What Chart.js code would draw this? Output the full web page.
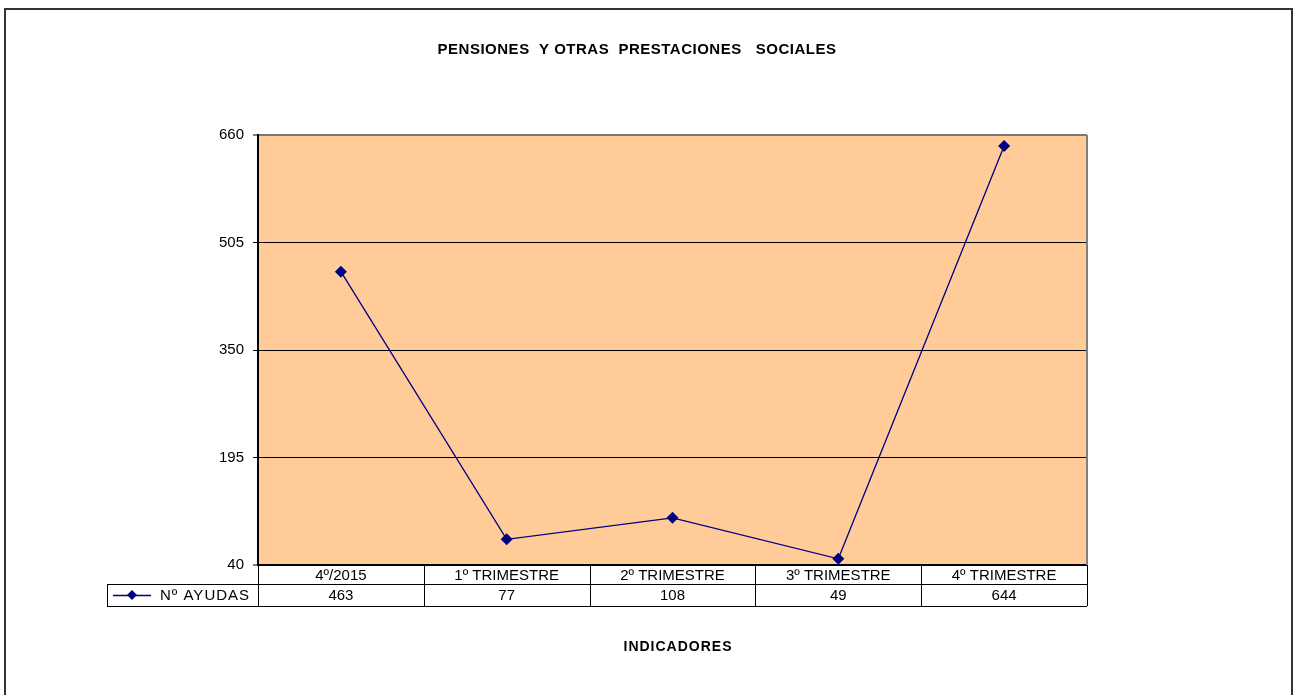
<!DOCTYPE html>
<html>
<head>
<meta charset="utf-8">
<script src="https://cdn.jsdelivr.net/npm/chart.js@4"></script>
<style>
  body { margin: 0; background: #fff; }
  #wrap { width: 1297px; height: 695px; }
</style>
</head>
<body>
<div id="wrap"><canvas id="chart" width="1297" height="695"></canvas></div>
<script>
const categories = ['4º/2015', '1º TRIMESTRE', '2º TRIMESTRE', '3º TRIMESTRE', '4º TRIMESTRE'];
const ayudas = [463, 77, 108, 49, 644];
const seriesName = 'Nº AYUDAS';
const yTicks = [40, 195, 350, 505, 660];
const chartTitle = 'PENSIONES  Y OTRAS  PRESTACIONES   SOCIALES';
const axisTitle = 'INDICADORES';

const FONT = '"Liberation Sans", Arial, sans-serif';
const NAVY = '#000080';

// background, plot fill, frame, data table
const framePlugin = {
    id: 'frame',
    beforeDraw(chart) {
        const c = chart.ctx;
        const a = chart.chartArea;
        c.save();
        c.fillStyle = '#fff';
        c.fillRect(0, 0, chart.width, chart.height);
        c.strokeStyle = '#333';
        c.lineWidth = 2;
        c.strokeRect(5, 9, 1287, 700);
        c.fillStyle = '#FFCC99';
        c.fillRect(a.left, a.top, a.right - a.left, a.bottom - a.top);
        c.restore();
    },
    afterDraw(chart) {
        const c = chart.ctx;
        const a = chart.chartArea;
        const x = chart.scales.x;
        c.save();
        c.strokeStyle = '#808080';
        c.lineWidth = 2;
        c.beginPath();
        c.moveTo(a.right, a.top);
        c.lineTo(a.right, a.bottom);
        c.stroke();

        // titles
        c.fillStyle = '#000';
        c.textAlign = 'center';
        c.textBaseline = 'middle';
        c.font = 'bold 15px ' + FONT;
        c.letterSpacing = '0.5px';
        c.fillText(chartTitle, 637, 50);
        c.font = 'bold 14px ' + FONT;
        c.letterSpacing = '1px';
        c.fillText(axisTitle, 678, 647);
        c.letterSpacing = '0px';

        // data table
        const row1 = a.bottom, row2 = a.bottom + 19, row3 = a.bottom + 41;
        const colW = (a.right - a.left) / categories.length;
        const legendLeft = 107;
        c.strokeStyle = '#000';
        c.lineWidth = 1;
        c.beginPath();
        c.moveTo(legendLeft, row2 + 0.5); c.lineTo(a.right, row2 + 0.5);
        c.moveTo(legendLeft, row3 + 0.5); c.lineTo(a.right, row3 + 0.5);
        c.moveTo(legendLeft + 0.5, row2); c.lineTo(legendLeft + 0.5, row3);
        for (let i = 0; i <= categories.length; i++) {
            const xx = Math.round(a.left + i * colW) + 0.5;
            c.moveTo(xx, row1); c.lineTo(xx, row3);
        }
        c.stroke();

        c.font = '15px ' + FONT;
        c.fillStyle = '#000';
        categories.forEach((cat, i) => {
            const cx = x.getPixelForValue(i);
            c.fillText(cat, cx, (row1 + row2) / 2 + 1);
            c.fillText(String(ayudas[i]), cx, (row2 + row3) / 2 + 1);
        });

        // legend key
        const ly = (row2 + row3) / 2;
        c.strokeStyle = NAVY;
        c.lineWidth = 1.3;
        c.beginPath();
        c.moveTo(113, ly + 0.5); c.lineTo(151, ly + 0.5);
        c.stroke();
        c.fillStyle = NAVY;
        c.beginPath();
        c.moveTo(132, ly - 5); c.lineTo(137, ly); c.lineTo(132, ly + 5); c.lineTo(127, ly);
        c.closePath();
        c.fill();
        c.fillStyle = '#000';
        c.textAlign = 'left';
        c.letterSpacing = '1px';
        c.fillText(seriesName, 160, ly + 1);
        c.restore();
    }
};

new Chart(document.getElementById('chart'), {
    type: 'line',
    data: {
        labels: categories,
        datasets: [{
            label: seriesName,
            data: ayudas,
            borderColor: NAVY,
            borderWidth: 1.3,
            backgroundColor: NAVY,
            pointStyle: 'rectRot',
            pointRadius: 6,
            pointBorderWidth: 0,
            pointBackgroundColor: NAVY,
            tension: 0,
            fill: false
        }]
    },
    options: {
        responsive: false,
        animation: false,
        layout: { padding: { left: 208, top: 135, right: 210, bottom: 130 } },
        plugins: {
            legend: { display: false },
            title: { display: false },
            tooltip: { enabled: false }
        },
        scales: {
            x: {
                display: false,
                offset: true
            },
            y: {
                min: 40,
                max: 660,
                afterFit(scale) { scale.width = 50; },
                afterBuildTicks(scale) { scale.ticks = yTicks.map(v => ({ value: v })); },
                ticks: {
                    color: '#000',
                    font: { family: FONT, size: 15 },
                    padding: 9
                },
                grid: {
                    color: ctx => ctx.tick && ctx.tick.value === 660 ? '#777' : '#000',
                    lineWidth: ctx => ctx.tick && (ctx.tick.value === 660 || ctx.tick.value === 40) ? 2 : 1,
                    tickColor: '#000',
                    tickWidth: 1,
                    tickLength: 5
                },
                border: { color: '#000', width: 2 }
            }
        }
    },
    plugins: [framePlugin]
});
</script>
</body>
</html>
